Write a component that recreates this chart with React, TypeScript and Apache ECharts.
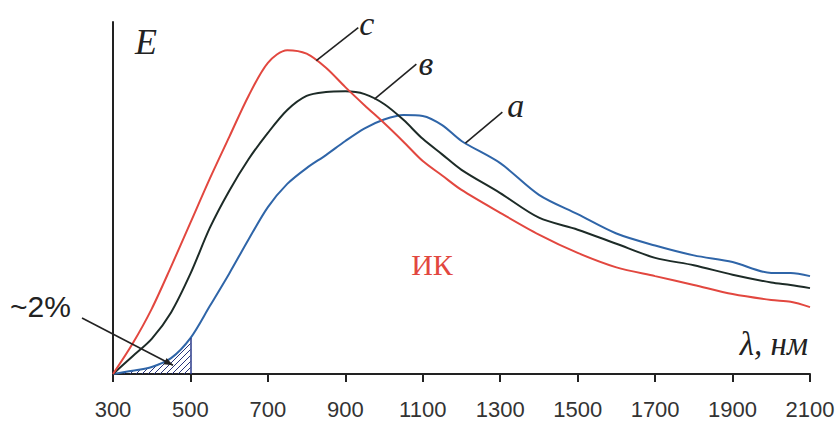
import React, { useEffect, useRef } from "react";
import * as echarts from "echarts";

// wavelength, nm
const wavelengths = [300, 350, 400, 450, 500, 550, 600, 650, 700, 750, 800, 850, 900, 950, 1000, 1050, 1100, 1150, 1200, 1300, 1400, 1500, 1600, 1700, 1800, 1900, 2000, 2050, 2100];
// curve c (red)
const curveC = [0, 8.5, 18.5, 30.5, 43, 55.5, 67.3, 79, 88.4, 92, 91, 87, 81.5, 76.3, 71.3, 66, 60.5, 56.4, 52.3, 45.8, 39.6, 34.4, 30.3, 27.8, 25.3, 22.7, 21, 20.5, 19];
// curve в (dark)
const curveB = [0, 5, 10, 17.5, 28.5, 41.5, 52, 61, 68.5, 75, 79, 80.1, 80.3, 79.5, 76.7, 72.2, 66.8, 62.4, 58, 51.4, 44.4, 41, 37, 33, 30.9, 28.2, 26, 25.3, 24.4];
// curve a (blue)
const curveA = [0, 0.9, 2, 4.5, 10.2, 19.3, 28.5, 38.2, 47.4, 54, 58.5, 62.2, 66.2, 69.8, 72.3, 73.6, 73.3, 70.7, 66.2, 59.9, 50.9, 45.4, 39.9, 36.5, 33.7, 31.8, 28.7, 28.7, 27.8];
const xTicks = { min: 300, max: 2100, step: 200 };
const hatchUntil = 500;

const RED = "#e2473f";
const DARK = "#1d2b27";
const BLUE = "#2f65a8";

function interp(xs: number[], ys: number[], x: number) {
  for (let i = 0; i < xs.length - 1; i++) {
    if (x >= xs[i] && x <= xs[i + 1]) {
      const t = (x - xs[i]) / (xs[i + 1] - xs[i]);
      return ys[i] + t * (ys[i + 1] - ys[i]);
    }
  }
  return ys[ys.length - 1];
}

function makeHatch() {
  const c = document.createElement("canvas");
  c.width = 6;
  c.height = 6;
  const ctx = c.getContext("2d")!;
  ctx.strokeStyle = "#27337a";
  ctx.lineWidth = 1;
  ctx.beginPath();
  ctx.moveTo(-1, 7);
  ctx.lineTo(7, -1);
  ctx.moveTo(-1, 1);
  ctx.lineTo(1, -1);
  ctx.moveTo(5, 7);
  ctx.lineTo(7, 5);
  ctx.stroke();
  return c;
}

export default function App() {
  const ref = useRef<HTMLDivElement>(null);
  useEffect(() => {
    const chart = echarts.init(ref.current!, null, { renderer: "svg" });
    const pair = (ys: number[]) => wavelengths.map((w, i) => [w, ys[i]]);
    const hatchData = wavelengths
      .map((w, i) => [w, curveA[i]])
      .filter((p) => p[0] <= hatchUntil);
    const aAt500 = interp(wavelengths, curveA, hatchUntil);

    chart.setOption({
      animation: false,
      backgroundColor: "#ffffff",
      grid: { left: 113, right: 29, top: 22, bottom: 49, containLabel: false },
      xAxis: {
        type: "value",
        min: xTicks.min,
        max: xTicks.max,
        interval: xTicks.step,
        axisLine: { show: true, lineStyle: { color: "#222", width: 2 } },
        axisTick: { show: true, length: 8, lineStyle: { color: "#222", width: 2 } },
        axisLabel: {
          color: "#333",
          fontSize: 22,
          fontFamily: "Liberation Sans",
          margin: 24,
          formatter: (v: number) => String(v),
        },
        splitLine: { show: false },
      },
      yAxis: {
        type: "value",
        min: 0,
        max: 100,
        axisLine: { show: true, lineStyle: { color: "#222", width: 2 } },
        axisTick: { show: false },
        axisLabel: { show: false },
        splitLine: { show: false },
      },
      series: [
        {
          type: "line",
          data: hatchData,
          smooth: false,
          symbol: "none",
          lineStyle: { width: 0, opacity: 0 },
          areaStyle: { color: { image: makeHatch(), repeat: "repeat" }, opacity: 1 },
          markLine: {
            silent: true,
            symbol: ["none", "none"],
            label: { show: false },
            lineStyle: { color: "#2a3a8a", width: 1.5, type: "solid" },
            data: [[{ coord: [hatchUntil, 0] }, { coord: [hatchUntil, aAt500] }]],
          },
          z: 1,
        },
        { type: "line", data: pair(curveA), smooth: 0.3, symbol: "none", lineStyle: { color: BLUE, width: 2 }, z: 3 },
        { type: "line", data: pair(curveB), smooth: 0.3, symbol: "none", lineStyle: { color: DARK, width: 2 }, z: 3 },
        { type: "line", data: pair(curveC), smooth: 0.3, symbol: "none", lineStyle: { color: RED, width: 2 }, z: 3 },
      ],
    });

    const px = (x: number, y: number) => chart.convertToPixel({ gridIndex: 0 }, [x, y]) as number[];
    const serif = "Liberation Serif";
    const leader = (xs: number, ys: number[], label: string, dx: number, dy: number, tdx: number, tdy: number) => {
      const p = px(xs, interp(wavelengths, ys, xs));
      return [
        { type: "line", shape: { x1: p[0], y1: p[1], x2: p[0] + dx, y2: p[1] + dy }, style: { stroke: "#222", lineWidth: 1.6 }, z: 10 },
        {
          type: "text",
          x: p[0] + dx + tdx,
          y: p[1] + dy + tdy,
          style: { text: label, font: `italic 34px "${serif}"`, fill: "#222", align: "left", verticalAlign: "middle" },
          z: 10,
        },
      ];
    };

    const arrowEnd = px(455, 2.5);
    const arrowStart = [82, 318];
    const ang = Math.atan2(arrowEnd[1] - arrowStart[1], arrowEnd[0] - arrowStart[0]);
    const ah = 9, aw = 3.5;
    const head = [
      [arrowEnd[0], arrowEnd[1]],
      [arrowEnd[0] - ah * Math.cos(ang) + aw * Math.sin(ang), arrowEnd[1] - ah * Math.sin(ang) - aw * Math.cos(ang)],
      [arrowEnd[0] - ah * Math.cos(ang) - aw * Math.sin(ang), arrowEnd[1] - ah * Math.sin(ang) + aw * Math.cos(ang)],
    ];

    chart.setOption({
      graphic: [
        ...leader(825, curveC, "c", 42, -33, 1, -4),
        ...leader(975, curveB, "в", 42, -35, 2, -1),
        ...leader(1210, curveA, "a", 37, -31, 5, -7),
        {
          type: "text",
          x: 135,
          y: 42,
          style: { text: "E", font: `italic 36px "${serif}"`, fill: "#222", align: "left", verticalAlign: "middle" },
        },
        {
          type: "text",
          x: 808,
          y: 344,
          style: { text: "λ, нм", font: `italic 33px "${serif}"`, fill: "#222", align: "right", verticalAlign: "middle" },
        },
        {
          type: "text",
          x: 432,
          y: 264,
          style: { text: "ИК", font: `30px "${serif}"`, fill: RED, align: "center", verticalAlign: "middle" },
        },
        {
          type: "text",
          x: 10,
          y: 306,
          style: { text: "~2%", font: `30px "Liberation Sans"`, fill: "#222", align: "left", verticalAlign: "middle" },
        },
        {
          type: "line",
          shape: { x1: arrowStart[0], y1: arrowStart[1], x2: arrowEnd[0], y2: arrowEnd[1] },
          style: { stroke: "#222", lineWidth: 1.6 },
          z: 10,
        },
        { type: "polygon", shape: { points: head }, style: { fill: "#222" }, z: 10 },
      ],
    });

    return () => chart.dispose();
  }, []);
  return <div ref={ref} style={{ position: "fixed", left: 0, top: 0, width: 839, height: 423 }} />;
}
